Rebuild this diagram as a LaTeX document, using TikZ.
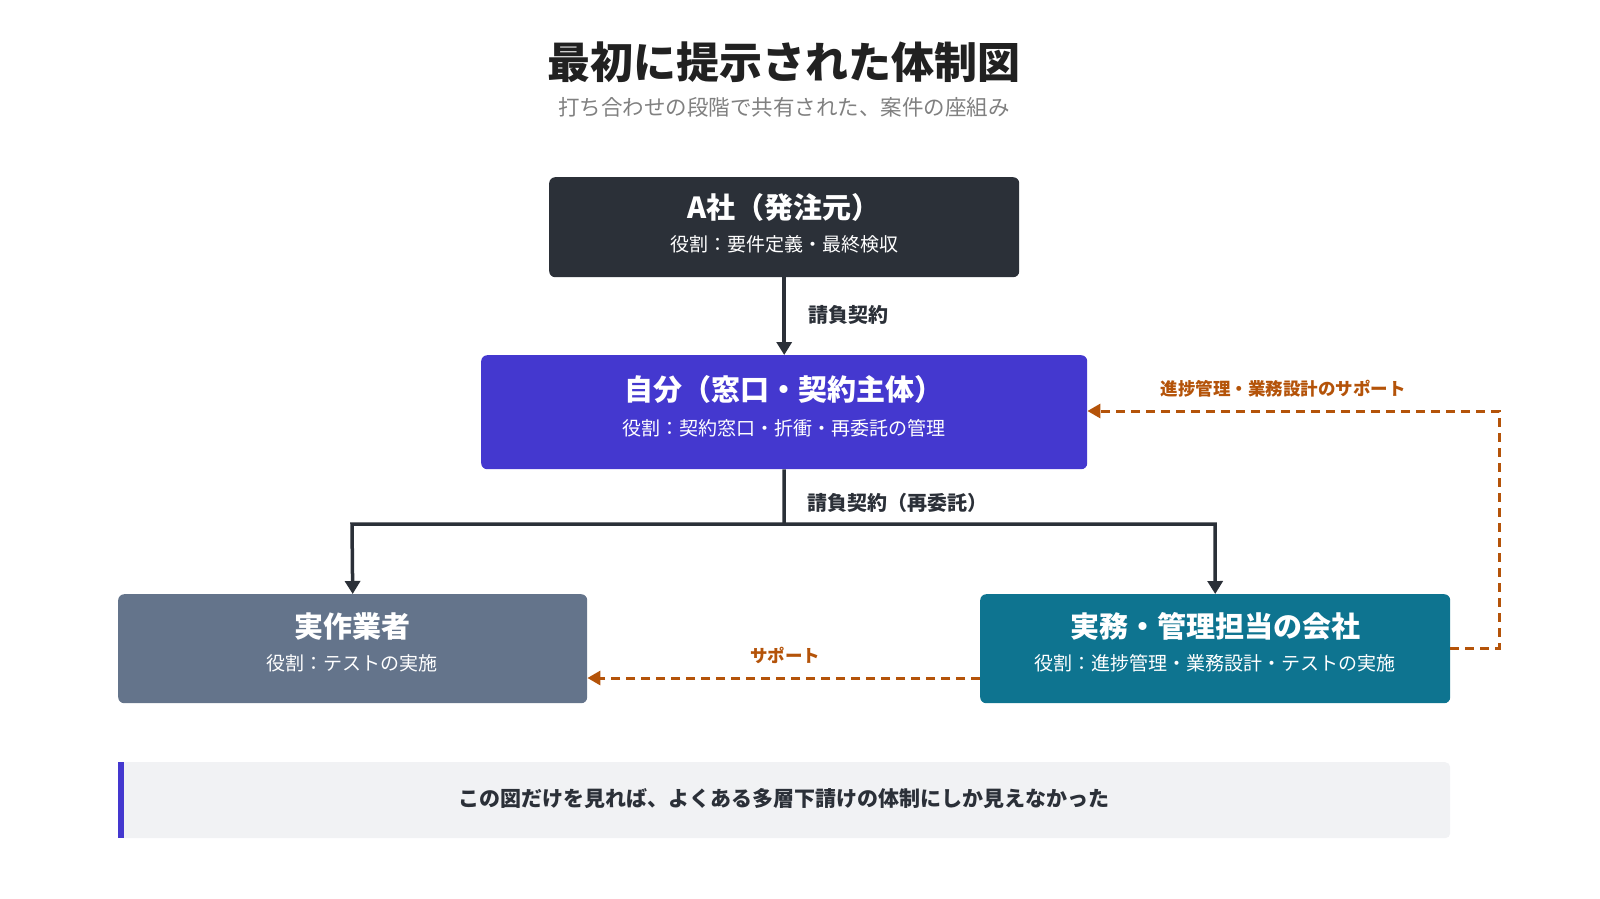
\documentclass[tikz,border=0pt]{standalone}
\usepackage{fontspec}
\setmainfont{Noto Sans CJK JP}
\usetikzlibrary{arrows.meta}
\definecolor{dark}{HTML}{2B3038}
\definecolor{purp}{HTML}{4438CF}
\definecolor{slate}{HTML}{64748B}
\definecolor{teal}{HTML}{0E7490}
\definecolor{orng}{HTML}{B45309}
\definecolor{note}{HTML}{F1F2F4}
\begin{document}
\begin{tikzpicture}[x=1pt,y=-1pt,
 box/.style={rounded corners=6pt,text=white,align=center,anchor=north west},
 conn/.style={line width=3.5pt,draw=dark,-{Triangle[length=13pt,width=15pt]}},
 line/.style={line width=3.5pt,draw=dark},
 supp/.style={line width=3pt,draw=orng,dash pattern=on 9pt off 6pt,-{Triangle[length=13pt,width=14pt]}},
 lbl/.style={font=\bfseries\fontsize{20}{24}\selectfont,text=dark},
 olbl/.style={font=\bfseries\fontsize{17.5}{20}\selectfont,text=orng}]
\useasboundingbox (0,0) rectangle (1600,898);
\node (title) at (784,62) [text=black!87] {\bfseries\fontsize{43}{48}\selectfont 最初に提示された体制図};
\node (sub) at (784,107) [text=gray] {\fontsize{21.5}{24}\selectfont 打ち合わせの段階で共有された、案件の座組み};
\node (a) [box,fill=dark,minimum width=470pt,minimum height=100pt] at (549,177) {};
\node at (784,207) [text=white] {\bfseries\fontsize{29}{32}\selectfont A社（発注元）};
\node at (784,244) [text=white] {\fontsize{19}{22}\selectfont 役割：要件定義・最終検収};
\node (me) [box,fill=purp,minimum width=606pt,minimum height=114pt] at (481,355) {};
\node at (784,389) [text=white] {\bfseries\fontsize{29}{32}\selectfont 自分（窓口・契約主体）};
\node at (784,428) [text=white] {\fontsize{19}{22}\selectfont 役割：契約窓口・折衝・再委託の管理};
\node (w) [box,fill=slate,minimum width=469pt,minimum height=109pt] at (118,594) {};
\node at (352,626) [text=white] {\bfseries\fontsize{29}{32}\selectfont 実作業者};
\node at (352,663) [text=white] {\fontsize{19}{22}\selectfont 役割：テストの実施};
\node (m) [box,fill=teal,minimum width=470pt,minimum height=109pt] at (980,594) {};
\node at (1215,626) [text=white] {\bfseries\fontsize{29}{32}\selectfont 実務・管理担当の会社};
\node at (1215,663) [text=white] {\fontsize{19}{22}\selectfont 役割：進捗管理・業務設計・テストの実施};
\draw[conn] (a.south) -- (me.north);
\node[lbl] at (848,315) {請負契約};
\coordinate (j) at (784,524);
\draw[line] (me.south) -- (j);
\draw[conn] (j) -- (352,524) -- (w.north);
\draw[conn] (j) -- (1215,524) -- (m.north);
\node[lbl] at (897,503) {請負契約（再委託）};
\draw[supp] (m.west |- 0,678) -- (w.east |- 0,678);
\node[olbl] at (785,655) {サポート};
\draw[supp] (m.east |- 0,648) -- (1499,648) -- (1499,411) -- (me.east |- 0,411);
\node[olbl] at (1283,389) {進捗管理・業務設計のサポート};
\node (n) [fill=note,rounded corners=5pt,minimum width=1332pt,minimum height=76pt,anchor=north west] at (118,762) {};
\fill[purp] (118,762) rectangle (124,838);
\node[font=\bfseries\fontsize{21}{24}\selectfont,text=dark] at (784,799) {この図だけを見れば、よくある多層下請けの体制にしか見えなかった};
\end{tikzpicture}
\end{document}
